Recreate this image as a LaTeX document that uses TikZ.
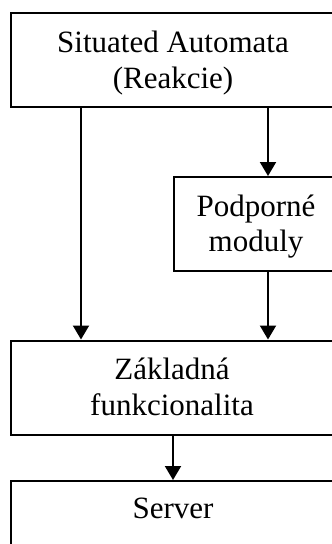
\documentclass[tikz,border=0pt]{standalone}
\usepackage{fontspec}
\setmainfont{Liberation Serif}
\usetikzlibrary{arrows.meta}
\begin{document}
\begin{tikzpicture}[x=1pt,y=-1pt,
  box/.style={draw=black,line width=2pt,minimum height=94pt,inner sep=0pt},
  wide/.style={box,minimum width=324pt},
  narrow/.style={box,minimum width=164pt},
  % multi-line labels sit on the baseline of their last line
  txt/.style={align=center,inner sep=0pt,anchor=base,
    font=\fontsize{31}{35.5}\selectfont},
  arr/.style={line width=2pt,-{Triangle[width=16pt,length=14pt]}}]
  \useasboundingbox (0,0) rectangle (332,544);
  \fill[white] (0,0) rectangle (332,544);
  \clip (0,0) rectangle (332,544);

  % boxes
  \node[wide]   (sa) at (173,60)    {};
  \node[narrow] (pm) at (256,224)   {};
  \node[wide]   (zf) at (173,387.5) {};
  \node[wide]   (sv) at (173,528)   {};

  % labels
  \node[txt] (saT) at (173,88)  {Situated Automata\\(Reakcie)};
  \node[txt] (pmT) at (256,251.5) {Podporné\\moduly};
  \node[txt] (zfT) at (172,415) {Základná\\funkcionalita};
  \node[txt] (svT) at (173,518) {Server};

  % arrow columns
  \coordinate (lx) at (81,0);
  \coordinate (rx) at (268,0);

  % connectors
  \draw[arr] (sa.south -| lx) -- (zf.north -| lx);
  \draw[arr] (sa.south -| rx) -- (pm.north -| rx);
  \draw[arr] (pm.south -| rx) -- (zf.north -| rx);
  \draw[arr] (zf.south) -- (sv.north);
\end{tikzpicture}
\end{document}
